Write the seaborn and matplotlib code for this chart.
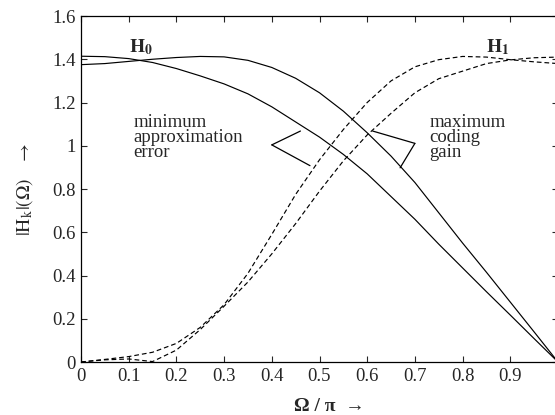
import numpy as np
import pandas as pd
import matplotlib
matplotlib.use("Agg")
import matplotlib.pyplot as plt
import seaborn as sns

# normalised frequency Omega/pi
omega = [0.0, 0.05, 0.1, 0.15, 0.2, 0.25, 0.3, 0.35, 0.4, 0.45, 0.5,
         0.55, 0.6, 0.65, 0.7, 0.75, 0.8, 0.85, 0.9, 0.95, 1.0]

# H0, minimum approximation error design
h0_minerr = [1.414, 1.412, 1.403, 1.385, 1.357, 1.323, 1.286, 1.24, 1.18, 1.11, 1.04,
             0.96, 0.87, 0.765, 0.66, 0.545, 0.435, 0.325, 0.217, 0.108, 0.0]
# H0, maximum coding gain design
h0_maxgain = [1.375, 1.38, 1.39, 1.40, 1.408, 1.413, 1.411, 1.395, 1.362, 1.312, 1.245,
              1.16, 1.06, 0.952, 0.83, 0.69, 0.55, 0.415, 0.277, 0.139, 0.0]
# H1, minimum approximation error design
h1_minerr = [0.0, 0.012, 0.025, 0.045, 0.086, 0.16, 0.265, 0.41, 0.59, 0.775, 0.935,
             1.075, 1.2, 1.3, 1.365, 1.398, 1.413, 1.41, 1.398, 1.388, 1.38]
# H1, maximum coding gain design
h1_maxgain = [0.0, 0.01, 0.014, 0.002, 0.055, 0.15, 0.258, 0.37, 0.5, 0.64, 0.79,
              0.93, 1.05, 1.15, 1.245, 1.31, 1.345, 1.38, 1.397, 1.407, 1.41]

xticks = [0, 0.1, 0.2, 0.3, 0.4, 0.5, 0.6, 0.7, 0.8, 0.9, 1]
xticklabels = ["0", "0.1", "0.2", "0.3", "0.4", "0.5", "0.6", "0.7", "0.8", "0.9", "1"]
yticks = [0, 0.2, 0.4, 0.6, 0.8, 1.0, 1.2, 1.4, 1.6]
yticklabels = ["0", "0.2", "0.4", "0.6", "0.8", "1", "1.2", "1.4", "1.6"]

sns.set_style("ticks")
plt.rcParams["font.family"] = ["Liberation Serif", "DejaVu Serif"]
plt.rcParams["mathtext.fontset"] = "stix"
plt.rcParams["xtick.direction"] = "in"
plt.rcParams["ytick.direction"] = "in"

fig = plt.figure(figsize=(5.55, 4.15), dpi=100)
ax = fig.add_axes([81 / 555, 53 / 415, 477 / 555, 346 / 415])

df = pd.DataFrame({"omega": omega, "h0a": h0_minerr, "h0b": h0_maxgain,
                   "h1a": h1_minerr, "h1b": h1_maxgain})

for col in ["h0a", "h0b"]:
    sns.lineplot(data=df, x="omega", y=col, color="black", lw=0.85, ax=ax)
for col in ["h1a", "h1b"]:
    sns.lineplot(data=df, x="omega", y=col, color="black", lw=0.85,
                 ax=ax).lines[-1].set_dashes((4, 2.5))

ax.set_xlim(0, 1)
ax.set_ylim(0, 1.6)
ax.set_xticks(xticks)
ax.set_xticklabels(xticklabels, fontsize=13.5)
ax.set_yticks(yticks)
ax.set_yticklabels(yticklabels, fontsize=13.5)
ax.tick_params(top=True, right=True, length=4, width=0.8, pad=4)
for sp in ax.spines.values():
    sp.set_linewidth(0.9)
    sp.set_color("black")

ax.set_xlabel("Ω / π  →", fontsize=14, fontweight="bold", labelpad=8)
ax.xaxis.set_label_coords(0.52, -0.105)
ax.set_ylabel(r"$|\mathrm{H_k}|(\Omega)$   $\rightarrow$", fontsize=14, labelpad=12)

# curve labels
ax.text(0.1, 1.43, r"$\mathbf{H_0}$", fontsize=14)
ax.text(0.85, 1.43, r"$\mathbf{H_1}$", fontsize=14)

# annotations
ax.text(0.11, 1.04, "minimum\napproximation\nerror", fontsize=13.5,
        va="center", ha="left", linespacing=0.85)
ax.text(0.73, 1.04, "maximum\ncoding\ngain", fontsize=13.5,
        va="center", ha="left", linespacing=0.85)
for end in [(0.46, 1.068), (0.48, 0.908)]:
    ax.annotate("", xy=end, xytext=(0.40, 1.004),
                arrowprops=dict(arrowstyle="-", lw=0.9, color="black",
                                shrinkA=0, shrinkB=0))
for end in [(0.6115, 1.068), (0.669, 0.898)]:
    ax.annotate("", xy=end, xytext=(0.70, 1.011),
                arrowprops=dict(arrowstyle="-", lw=0.9, color="black",
                                shrinkA=0, shrinkB=0))

plt.savefig("out.png", dpi=100)
